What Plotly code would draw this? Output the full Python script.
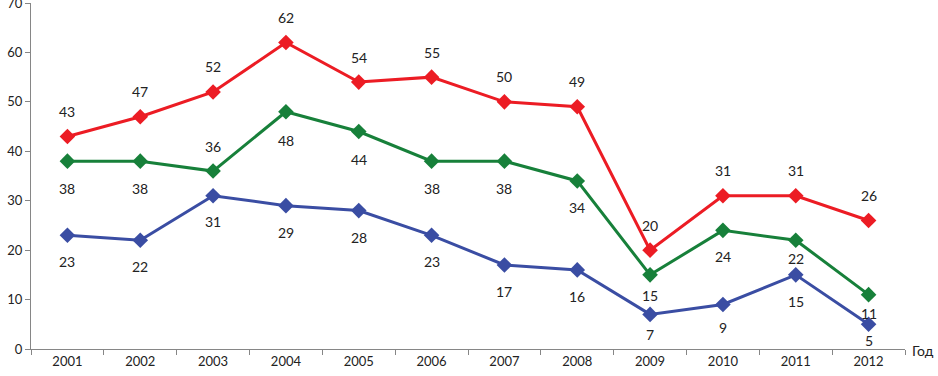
import plotly.graph_objects as go

years = ["2001", "2002", "2003", "2004", "2005", "2006", "2007", "2008", "2009", "2010", "2011", "2012"]
red_vals = [43, 47, 52, 62, 54, 55, 50, 49, 20, 31, 31, 26]
green_vals = [38, 38, 36, 48, 44, 38, 38, 34, 15, 24, 22, 11]
blue_vals = [23, 22, 31, 29, 28, 23, 17, 16, 7, 9, 15, 5]
y_ticks = [0, 10, 20, 30, 40, 50, 60, 70]

# label vertical offsets (px) relative to each marker
red_shift = [25] * 12
green_shift = [-27, -27, 25, -29, -28, -27, -27, -27, -21, -26, -18, -19]
blue_shift = [-26, -26, -26, -27, -27, -26, -27, -27, -20, -23, -27, -16]

series = [
    (red_vals, "#EC1C24", red_shift),
    (green_vals, "#17803A", green_shift),
    (blue_vals, "#3A4DA3", blue_shift),
]

FONT = "Lato"
TXT = "#222222"
fig = go.Figure()
annotations = []
for vals, color, shifts in series:
    fig.add_trace(go.Scatter(
        x=years, y=vals, mode="lines+markers",
        line=dict(color=color, width=3),
        marker=dict(symbol="diamond", size=12, color=color),
        showlegend=False, cliponaxis=False,
    ))
    for i, (v, s) in enumerate(zip(vals, shifts)):
        annotations.append(dict(
            x=i, y=v, text=str(v), showarrow=False, yshift=s,
            font=dict(family=FONT, size=14, color=TXT),
        ))

annotations.append(dict(
    xref="paper", yref="paper", x=1, y=0, xanchor="left", yanchor="middle",
    xshift=5, yshift=-1,
    text="Год", showarrow=False, font=dict(family=FONT, size=14, color=TXT),
))

fig.update_layout(
    width=938, height=376,
    margin=dict(l=31, r=33, t=3, b=27),
    paper_bgcolor="white", plot_bgcolor="white",
    annotations=annotations,
    font=dict(family=FONT, size=13, color=TXT),
)
fig.update_xaxes(
    type="category", range=[-0.5, len(years) - 0.5],
    showline=True, linecolor="#868686", linewidth=1,
    ticks="outside", tickson="boundaries", ticklen=5, tickcolor="#868686",
    showgrid=False, zeroline=False, tickfont=dict(family=FONT, size=13),
)
fig.update_yaxes(
    range=[0, 70], tickmode="array", tickvals=y_ticks,
    showline=True, linecolor="#868686", linewidth=1,
    ticks="outside", ticklen=5, tickcolor="#868686", showgrid=False, zeroline=False,
    tickfont=dict(family=FONT, size=13), automargin=False,
    ticklabeloverflow="allow",
)

fig.write_html("out.html", config={"displayModeBar": False},
               post_script="document.body.style.margin='0px';")
